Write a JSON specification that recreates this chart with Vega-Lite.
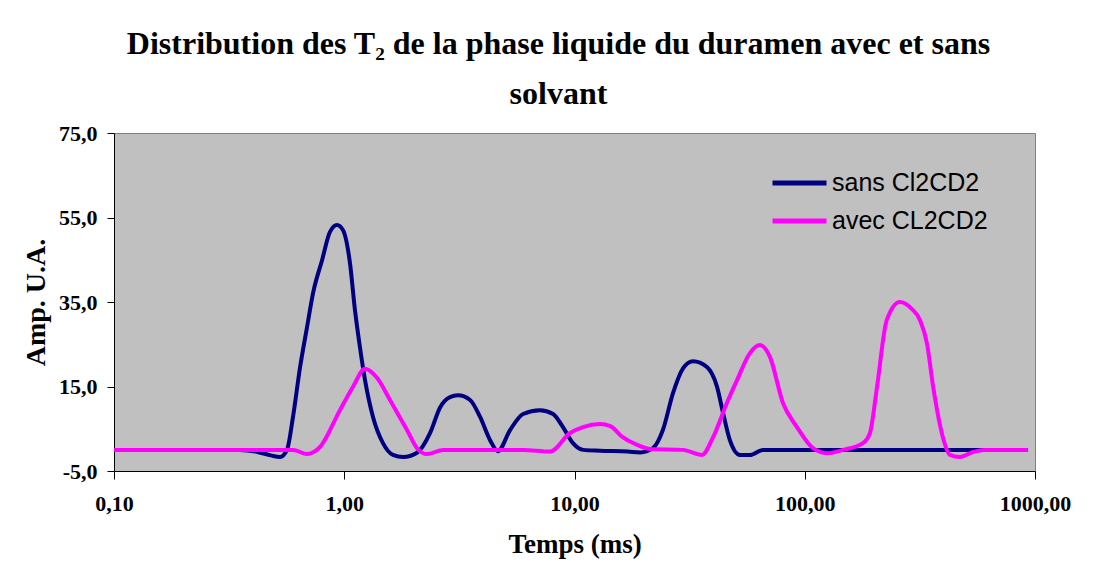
{
  "$schema": "https://vega.github.io/schema/vega-lite/v6.json",
  "width": 921,
  "height": 338,
  "autosize": {"type": "none"},
  "padding": {"left": 114, "top": 133, "right": 63, "bottom": 95},
  "background": "white",
  "title": {
    "text": ["Distribution des T₂ de la phase liquide du duramen avec et sans", "solvant"],
    "font": "Liberation Serif",
    "fontSize": 32,
    "fontWeight": "bold",
    "color": "black",
    "anchor": "middle",
    "dx": -16,
    "offset": 11,
    "lineHeight": 50
  },
  "config": {
    "view": {"fill": "#C0C0C0", "stroke": "#808080", "strokeWidth": 1},
    "axis": {
      "grid": false,
      "domainColor": "black",
      "tickColor": "black",
      "labelFont": "Liberation Serif",
      "labelFontSize": 22,
      "labelFontWeight": "bold",
      "labelColor": "black",
      "titleFont": "Liberation Serif",
      "titleFontWeight": "bold",
      "titleColor": "black"
    }
  },
  "data": {
    "values": [
      {"serie": "sans Cl2CD2", "t": 0.1, "amp": 0},
      {"serie": "sans Cl2CD2", "t": 0.2, "amp": 0},
      {"serie": "sans Cl2CD2", "t": 0.35, "amp": 0},
      {"serie": "sans Cl2CD2", "t": 0.42, "amp": -0.5},
      {"serie": "sans Cl2CD2", "t": 0.48, "amp": -1.3},
      {"serie": "sans Cl2CD2", "t": 0.526, "amp": -1.7},
      {"serie": "sans Cl2CD2", "t": 0.564, "amp": 0},
      {"serie": "sans Cl2CD2", "t": 0.599, "amp": 7.8},
      {"serie": "sans Cl2CD2", "t": 0.643, "amp": 19.6},
      {"serie": "sans Cl2CD2", "t": 0.689, "amp": 29},
      {"serie": "sans Cl2CD2", "t": 0.732, "amp": 37.1},
      {"serie": "sans Cl2CD2", "t": 0.801, "amp": 44.9},
      {"serie": "sans Cl2CD2", "t": 0.867, "amp": 51.6},
      {"serie": "sans Cl2CD2", "t": 0.93, "amp": 53.2},
      {"serie": "sans Cl2CD2", "t": 0.988, "amp": 52},
      {"serie": "sans Cl2CD2", "t": 1.059, "amp": 44.2},
      {"serie": "sans Cl2CD2", "t": 1.113, "amp": 33.1},
      {"serie": "sans Cl2CD2", "t": 1.17, "amp": 24.3},
      {"serie": "sans Cl2CD2", "t": 1.231, "amp": 16.5},
      {"serie": "sans Cl2CD2", "t": 1.333, "amp": 7.8},
      {"serie": "sans Cl2CD2", "t": 1.473, "amp": 1.6},
      {"serie": "sans Cl2CD2", "t": 1.628, "amp": -1.2},
      {"serie": "sans Cl2CD2", "t": 1.8, "amp": -1.7},
      {"serie": "sans Cl2CD2", "t": 2.07, "amp": -0.7},
      {"serie": "sans Cl2CD2", "t": 2.36, "amp": 4},
      {"serie": "sans Cl2CD2", "t": 2.61, "amp": 10.1},
      {"serie": "sans Cl2CD2", "t": 2.88, "amp": 12.5},
      {"serie": "sans Cl2CD2", "t": 3.12, "amp": 12.9},
      {"serie": "sans Cl2CD2", "t": 3.52, "amp": 11.8},
      {"serie": "sans Cl2CD2", "t": 3.89, "amp": 7.8},
      {"serie": "sans Cl2CD2", "t": 4.3, "amp": 2.3},
      {"serie": "sans Cl2CD2", "t": 4.65, "amp": -0.3},
      {"serie": "sans Cl2CD2", "t": 5.25, "amp": 4.7},
      {"serie": "sans Cl2CD2", "t": 5.98, "amp": 8.5},
      {"serie": "sans Cl2CD2", "t": 7.08, "amp": 9.4},
      {"serie": "sans Cl2CD2", "t": 8.07, "amp": 8.5},
      {"serie": "sans Cl2CD2", "t": 8.91, "amp": 5.4},
      {"serie": "sans Cl2CD2", "t": 9.85, "amp": 1.6},
      {"serie": "sans Cl2CD2", "t": 10.9, "amp": 0},
      {"serie": "sans Cl2CD2", "t": 12.9, "amp": -0.2},
      {"serie": "sans Cl2CD2", "t": 17, "amp": -0.4},
      {"serie": "sans Cl2CD2", "t": 19.3, "amp": -0.6},
      {"serie": "sans Cl2CD2", "t": 21.9, "amp": 0.4},
      {"serie": "sans Cl2CD2", "t": 24.2, "amp": 4.7},
      {"serie": "sans Cl2CD2", "t": 26.8, "amp": 13.5},
      {"serie": "sans Cl2CD2", "t": 29.6, "amp": 19.3},
      {"serie": "sans Cl2CD2", "t": 32.7, "amp": 21},
      {"serie": "sans Cl2CD2", "t": 37.6, "amp": 19.6},
      {"serie": "sans Cl2CD2", "t": 41.6, "amp": 14.9},
      {"serie": "sans Cl2CD2", "t": 44.2, "amp": 8.7},
      {"serie": "sans Cl2CD2", "t": 47.3, "amp": 2.3},
      {"serie": "sans Cl2CD2", "t": 52.3, "amp": -1.2},
      {"serie": "sans Cl2CD2", "t": 57.8, "amp": -1.2},
      {"serie": "sans Cl2CD2", "t": 65.9, "amp": 0},
      {"serie": "sans Cl2CD2", "t": 150, "amp": 0},
      {"serie": "sans Cl2CD2", "t": 400, "amp": 0},
      {"serie": "sans Cl2CD2", "t": 933, "amp": 0},
      {"serie": "avec CL2CD2", "t": 0.1, "amp": 0},
      {"serie": "avec CL2CD2", "t": 0.3, "amp": 0},
      {"serie": "avec CL2CD2", "t": 0.5, "amp": 0},
      {"serie": "avec CL2CD2", "t": 0.6, "amp": 0},
      {"serie": "avec CL2CD2", "t": 0.689, "amp": -1},
      {"serie": "avec CL2CD2", "t": 0.785, "amp": 0.7},
      {"serie": "avec CL2CD2", "t": 0.958, "amp": 9.4},
      {"serie": "avec CL2CD2", "t": 1.09, "amp": 14.9},
      {"serie": "avec CL2CD2", "t": 1.231, "amp": 19.2},
      {"serie": "avec CL2CD2", "t": 1.39, "amp": 17},
      {"serie": "avec CL2CD2", "t": 1.58, "amp": 11.8},
      {"serie": "avec CL2CD2", "t": 1.873, "amp": 4.7},
      {"serie": "avec CL2CD2", "t": 2.07, "amp": 0.4},
      {"serie": "avec CL2CD2", "t": 2.29, "amp": -1},
      {"serie": "avec CL2CD2", "t": 2.69, "amp": 0},
      {"serie": "avec CL2CD2", "t": 5.98, "amp": 0},
      {"serie": "avec CL2CD2", "t": 7.83, "amp": -0.4},
      {"serie": "avec CL2CD2", "t": 9.56, "amp": 4},
      {"serie": "avec CL2CD2", "t": 10.9, "amp": 5.4},
      {"serie": "avec CL2CD2", "t": 12.9, "amp": 6.1},
      {"serie": "avec CL2CD2", "t": 14.3, "amp": 5.6},
      {"serie": "avec CL2CD2", "t": 16.2, "amp": 3},
      {"serie": "avec CL2CD2", "t": 18.7, "amp": 1.2},
      {"serie": "avec CL2CD2", "t": 21.3, "amp": 0.2},
      {"serie": "avec CL2CD2", "t": 29.6, "amp": 0},
      {"serie": "avec CL2CD2", "t": 35.8, "amp": -1.2},
      {"serie": "avec CL2CD2", "t": 40, "amp": 3},
      {"serie": "avec CL2CD2", "t": 45.9, "amp": 11.1},
      {"serie": "avec CL2CD2", "t": 50.8, "amp": 16.5},
      {"serie": "avec CL2CD2", "t": 57.8, "amp": 22.9},
      {"serie": "avec CL2CD2", "t": 63.9, "amp": 24.8},
      {"serie": "avec CL2CD2", "t": 70.6, "amp": 22},
      {"serie": "avec CL2CD2", "t": 80.4, "amp": 11.1},
      {"serie": "avec CL2CD2", "t": 92.5, "amp": 5.4},
      {"serie": "avec CL2CD2", "t": 108.6, "amp": 0.4},
      {"serie": "avec CL2CD2", "t": 125, "amp": -0.8},
      {"serie": "avec CL2CD2", "t": 146.6, "amp": 0},
      {"serie": "avec CL2CD2", "t": 179, "amp": 1.6},
      {"serie": "avec CL2CD2", "t": 192, "amp": 4},
      {"serie": "avec CL2CD2", "t": 206, "amp": 14.9},
      {"serie": "avec CL2CD2", "t": 227, "amp": 30.7},
      {"serie": "avec CL2CD2", "t": 259, "amp": 35},
      {"serie": "avec CL2CD2", "t": 290, "amp": 33.5},
      {"serie": "avec CL2CD2", "t": 316.6, "amp": 30.7},
      {"serie": "avec CL2CD2", "t": 340, "amp": 25},
      {"serie": "avec CL2CD2", "t": 361, "amp": 15},
      {"serie": "avec CL2CD2", "t": 398, "amp": 3},
      {"serie": "avec CL2CD2", "t": 427, "amp": -1.2},
      {"serie": "avec CL2CD2", "t": 472, "amp": -1.7},
      {"serie": "avec CL2CD2", "t": 538, "amp": -0.5},
      {"serie": "avec CL2CD2", "t": 600, "amp": 0},
      {"serie": "avec CL2CD2", "t": 933, "amp": 0}
    ]
  },
  "mark": {"type": "line", "interpolate": "monotone", "strokeWidth": 4, "clip": true},
  "encoding": {
    "x": {
      "field": "t",
      "type": "quantitative",
      "scale": {"type": "log", "domain": [0.1, 1000]},
      "axis": {
        "title": "Temps (ms)",
        "titleFontSize": 27,
        "values": [0.1, 1, 10, 100, 1000],
        "labelExpr": "replace(format(datum.value, '.2f'), '.', ',')",
        "tickSize": 8,
        "labelPadding": 14,
        "titlePadding": 17,
        "labelFlush": false,
        "labelOverlap": false
      }
    },
    "y": {
      "field": "amp",
      "type": "quantitative",
      "scale": {"domain": [-5, 75], "nice": false, "zero": false},
      "axis": {
        "title": "Amp. U.A.",
        "titleFontSize": 28,
        "values": [-5, 15, 35, 55, 75],
        "labelExpr": "replace(replace(format(datum.value, '.1f'), '.', ','), '−', '-')",
        "tickSize": 7,
        "labelPadding": 10,
        "titlePadding": 8,
        "labelFlush": false,
        "labelOverlap": false
      }
    },
    "color": {
      "field": "serie",
      "type": "nominal",
      "scale": {"domain": ["sans Cl2CD2", "avec CL2CD2"], "range": ["#000080", "#FF00FF"]},
      "legend": {
        "orient": "none",
        "legendX": 656,
        "legendY": 32,
        "title": null,
        "padding": 0,
        "symbolType": "stroke",
        "symbolSize": 2916,
        "symbolStrokeWidth": 5,
        "symbolOffset": 0,
        "labelOffset": 3,
        "labelFont": "Liberation Sans",
        "labelFontSize": 25,
        "labelColor": "black",
        "clipHeight": 36,
        "rowPadding": 2
      }
    }
  }
}
